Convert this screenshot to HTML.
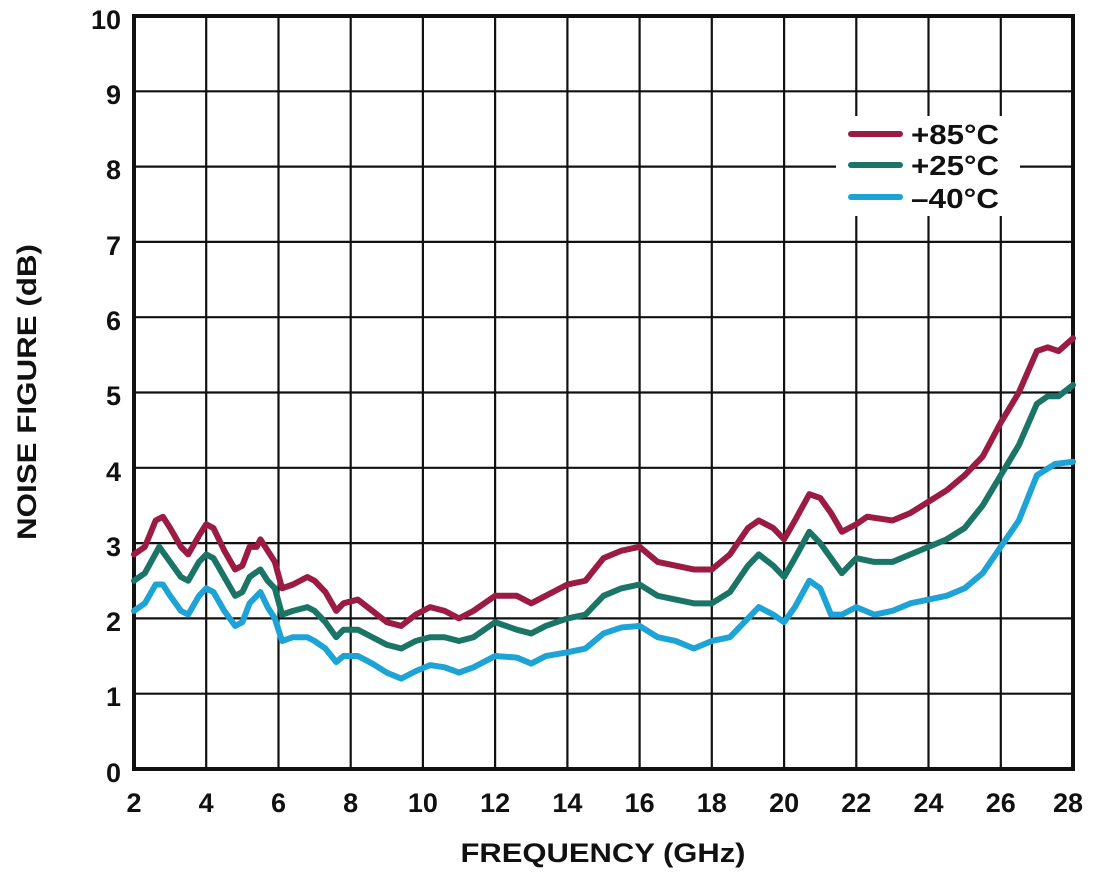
<!DOCTYPE html>
<html><head><meta charset="utf-8"><style>
body{margin:0;background:#fff;}
svg text{font-family:"Liberation Sans",Arial,sans-serif;font-weight:bold;fill:#111;}
</style></head><body>
<svg width="1100" height="873" viewBox="0 0 1100 873" xmlns="http://www.w3.org/2000/svg">
<rect width="1100" height="873" fill="#fff"/>
<g stroke="#111" stroke-width="2.2">
<line x1="206.2" y1="16" x2="206.2" y2="769"/><line x1="278.5" y1="16" x2="278.5" y2="769"/><line x1="350.7" y1="16" x2="350.7" y2="769"/><line x1="422.9" y1="16" x2="422.9" y2="769"/><line x1="495.1" y1="16" x2="495.1" y2="769"/><line x1="567.4" y1="16" x2="567.4" y2="769"/><line x1="639.6" y1="16" x2="639.6" y2="769"/><line x1="711.8" y1="16" x2="711.8" y2="769"/><line x1="784.1" y1="16" x2="784.1" y2="769"/><line x1="856.3" y1="16" x2="856.3" y2="769"/><line x1="928.5" y1="16" x2="928.5" y2="769"/><line x1="1000.8" y1="16" x2="1000.8" y2="769"/>
<line x1="134" y1="91.3" x2="1073" y2="91.3"/><line x1="134" y1="166.6" x2="1073" y2="166.6"/><line x1="134" y1="241.9" x2="1073" y2="241.9"/><line x1="134" y1="317.2" x2="1073" y2="317.2"/><line x1="134" y1="392.5" x2="1073" y2="392.5"/><line x1="134" y1="467.8" x2="1073" y2="467.8"/><line x1="134" y1="543.1" x2="1073" y2="543.1"/><line x1="134" y1="618.4" x2="1073" y2="618.4"/><line x1="134" y1="693.7" x2="1073" y2="693.7"/>
</g>
<rect x="836" y="116" width="184" height="100" fill="#fff"/>
<rect x="134" y="16" width="939" height="753" fill="none" stroke="#111" stroke-width="4"/>
<g fill="none" stroke-width="6" stroke-linejoin="round" stroke-linecap="round" transform="translate(134,769) scale(36.115,-75.3) translate(-2,0)">
<polyline vector-effect="non-scaling-stroke" stroke="#9b1b42" points="2,2.85 2.3,2.95 2.6,3.3 2.8,3.35 3,3.2 3.3,2.95 3.5,2.85 3.8,3.1 4,3.25 4.2,3.2 4.5,2.9 4.8,2.65 5,2.7 5.2,2.95 5.4,2.95 5.5,3.05 5.7,2.9 5.9,2.75 6.1,2.4 6.4,2.45 6.8,2.55 7,2.5 7.3,2.35 7.6,2.1 7.8,2.2 8.2,2.25 8.6,2.1 9,1.95 9.4,1.9 9.8,2.05 10.2,2.15 10.6,2.1 11,2 11.4,2.1 12,2.3 12.6,2.3 13,2.2 13.4,2.3 14,2.45 14.5,2.5 15,2.8 15.5,2.9 16,2.95 16.5,2.75 17,2.7 17.5,2.65 18,2.65 18.5,2.85 19,3.2 19.3,3.3 19.7,3.2 20,3.05 20.3,3.3 20.7,3.65 21,3.6 21.3,3.4 21.6,3.15 22,3.25 22.3,3.35 23,3.3 23.5,3.4 24,3.55 24.5,3.7 25,3.9 25.5,4.15 26,4.6 26.5,5 27,5.55 27.3,5.6 27.6,5.55 28,5.72"/>
<polyline vector-effect="non-scaling-stroke" stroke="#1a7566" points="2,2.5 2.3,2.6 2.7,2.95 3,2.75 3.3,2.55 3.5,2.5 3.8,2.75 4,2.85 4.2,2.8 4.5,2.55 4.8,2.3 5,2.35 5.2,2.55 5.5,2.65 5.7,2.5 5.9,2.4 6.1,2.05 6.4,2.1 6.8,2.15 7,2.1 7.3,1.95 7.6,1.75 7.8,1.85 8.2,1.85 8.6,1.75 9,1.65 9.4,1.6 9.8,1.7 10.2,1.75 10.6,1.75 11,1.7 11.4,1.75 12,1.95 12.6,1.85 13,1.8 13.4,1.9 14,2 14.5,2.05 15,2.3 15.5,2.4 16,2.45 16.5,2.3 17,2.25 17.5,2.2 18,2.2 18.5,2.35 19,2.7 19.3,2.85 19.7,2.7 20,2.55 20.3,2.8 20.7,3.15 21,3 21.3,2.8 21.6,2.6 22,2.8 22.5,2.75 23,2.75 23.5,2.85 24,2.95 24.5,3.05 25,3.2 25.5,3.5 26,3.9 26.5,4.3 27,4.85 27.3,4.95 27.6,4.95 28,5.1"/>
<polyline vector-effect="non-scaling-stroke" stroke="#1ea3d6" points="2,2.1 2.3,2.2 2.6,2.45 2.8,2.45 3,2.3 3.3,2.1 3.5,2.05 3.8,2.3 4,2.4 4.2,2.35 4.5,2.1 4.8,1.9 5,1.95 5.2,2.2 5.5,2.35 5.7,2.15 5.9,2 6.1,1.7 6.4,1.75 6.8,1.75 7,1.7 7.3,1.6 7.6,1.42 7.8,1.5 8.2,1.5 8.6,1.4 9,1.28 9.4,1.2 9.8,1.3 10.2,1.38 10.6,1.35 11,1.28 11.4,1.35 12,1.5 12.6,1.48 13,1.4 13.4,1.5 14,1.55 14.5,1.6 15,1.8 15.5,1.88 16,1.9 16.5,1.75 17,1.7 17.5,1.6 18,1.7 18.5,1.75 19,2 19.3,2.15 19.7,2.05 20,1.95 20.3,2.15 20.7,2.5 21,2.4 21.3,2.05 21.6,2.05 22,2.15 22.5,2.05 23,2.1 23.5,2.2 24,2.25 24.5,2.3 25,2.4 25.5,2.6 26,2.95 26.5,3.3 27,3.9 27.5,4.05 28,4.08"/>
</g>
<g stroke-width="6" stroke-linecap="round">
<line x1="851" y1="134" x2="900" y2="134" stroke="#9b1b42"/>
<line x1="851" y1="165" x2="900" y2="165" stroke="#1a7566"/>
<line x1="851" y1="197" x2="900" y2="197" stroke="#1ea3d6"/>
</g>
<g font-size="28"><text x="911" y="144" textLength="88" lengthAdjust="spacingAndGlyphs">+85°C</text><text x="911" y="175" textLength="88" lengthAdjust="spacingAndGlyphs">+25°C</text><text x="911" y="208" textLength="88" lengthAdjust="spacingAndGlyphs">–40°C</text></g>
<g font-size="27" text-anchor="end">
<text x="121" y="29">10</text><text x="121" y="104">9</text><text x="121" y="179">8</text><text x="121" y="255">7</text><text x="121" y="330">6</text><text x="121" y="405">5</text><text x="121" y="481">4</text><text x="121" y="556">3</text><text x="121" y="631">2</text><text x="121" y="706">1</text><text x="121" y="782">0</text>
</g>
<g font-size="27" text-anchor="middle">
<text x="134" y="812">2</text><text x="206.2" y="812">4</text><text x="278.5" y="812">6</text><text x="350.7" y="812">8</text><text x="422.9" y="812">10</text><text x="495.1" y="812">12</text><text x="567.4" y="812">14</text><text x="639.6" y="812">16</text><text x="711.8" y="812">18</text><text x="784.1" y="812">20</text><text x="856.3" y="812">22</text><text x="928.5" y="812">24</text><text x="1000.8" y="812">26</text><text x="1068" y="812">28</text>
<text x="603" y="862" textLength="285" lengthAdjust="spacingAndGlyphs">FREQUENCY (GHz)</text>
<text transform="translate(36,392) rotate(-90)" textLength="296" lengthAdjust="spacingAndGlyphs">NOISE FIGURE (dB)</text>
</g>
</svg>
</body></html>
